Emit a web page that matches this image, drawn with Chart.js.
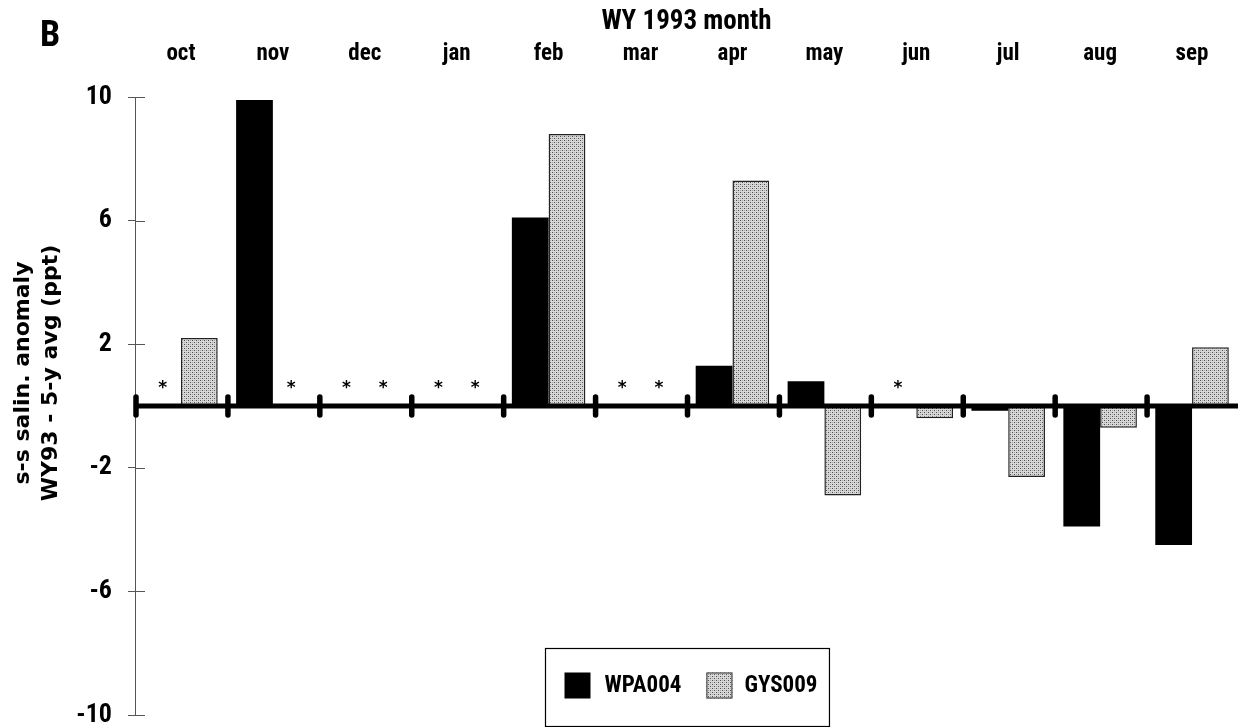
<!DOCTYPE html>
<html>
<head>
<meta charset="utf-8">
<script src="https://cdn.jsdelivr.net/npm/chart.js@4.4.1/dist/chart.umd.min.js"></script>
<style>
html,body{margin:0;padding:0;background:#fff;}
#wrap{position:relative;width:1238px;height:727px;overflow:hidden;}
#panel{position:absolute;left:40px;top:16px;font:bold 36px 'Roboto Condensed',Roboto,sans-serif;color:#000;line-height:1;}
</style>
</head>
<body>
<div id="wrap"><canvas id="c"></canvas><div id="panel">B</div></div>
<script>
// ---- data ----
const months = ['oct','nov','dec','jan','feb','mar','apr','may','jun','jul','aug','sep'];
const wpa004 = [null, 9.9, null, null, 6.1, null, 1.3, 0.8, null, -0.15, -3.9, -4.5];
const gys009 = [2.2, null, null, null, 8.8, null, 7.3, -2.9, -0.4, -2.3, -0.7, 1.9];
const seriesNames = ['WPA004', 'GYS009'];
const yTicks = [-10, -6, -2, 2, 6, 10];
const xTitle = 'WY 1993 month';
const yTitleLines = ['s-s salin. anomaly', 'WY93 - 5-y avg (ppt)'];
const missingMark = '*';

// ---- styles ----
const COND = "'Roboto Condensed',Roboto,'Liberation Sans',sans-serif";
const WIDE = "'DejaVu Sans','Liberation Sans',sans-serif";
Chart.defaults.font.family = COND;
Chart.defaults.color = '#000';

const canvas = document.getElementById('c');
const mainCtx = canvas.getContext('2d');
function makeStipple() {
  const c = document.createElement('canvas');
  c.width = 4; c.height = 4;
  const g = c.getContext('2d');
  g.fillStyle = '#d8d8d8'; g.fillRect(0, 0, 4, 4);
  g.fillStyle = '#505050';
  g.fillRect(0, 0, 1, 1); g.fillRect(2, 2, 1, 1);
  g.fillStyle = '#a8a8a8';
  g.fillRect(2, 0, 1, 1); g.fillRect(0, 2, 1, 1);
  return mainCtx.createPattern(c, 'repeat');
}
const stipple = makeStipple();

const decor = {
  id: 'decor',
  afterDatasetsDraw(chart) {
    const {ctx, chartArea: a, scales: {x, y}} = chart;
    const y0 = y.getPixelForValue(0);
    ctx.save();
    // y tick marks extending into plot
    ctx.strokeStyle = '#555'; ctx.lineWidth = 1;
    y.ticks.forEach(t => {
      const py = Math.round(y.getPixelForValue(t.value)) + 0.5;
      ctx.beginPath(); ctx.moveTo(a.left, py); ctx.lineTo(a.left + 10, py); ctx.stroke();
    });
    // zero line
    ctx.strokeStyle = '#000'; ctx.lineWidth = 5; ctx.lineCap = 'butt';
    ctx.beginPath(); ctx.moveTo(a.left, y0); ctx.lineTo(a.right, y0); ctx.stroke();
    // month boundary markers
    const cw = x.getPixelForValue(1) - x.getPixelForValue(0);
    ctx.lineCap = 'round'; ctx.lineWidth = 5.5;
    for (let i = 0; i < months.length; i++) {
      const bx = x.getPixelForValue(i) - cw / 2 + 1;
      ctx.beginPath(); ctx.moveTo(bx, y0 - 9); ctx.lineTo(bx, y0 + 9); ctx.stroke();
    }
    // missing-value asterisks
    ctx.fillStyle = '#000';
    ctx.font = "bold 17px " + WIDE;
    ctx.textAlign = 'center'; ctx.textBaseline = 'middle';
    chart.data.datasets.forEach((ds, di) => {
      const meta = chart.getDatasetMeta(di);
      ds.data.forEach((v, j) => {
        if (v === null) ctx.fillText(missingMark, meta.data[j].x, y0 - 17);
      });
    });
    ctx.restore();
  },
  afterDraw(chart) {
    const {ctx, chartArea: a} = chart;
    ctx.save();
    // y axis title (two lines, rotated)
    ctx.font = "bold 22px " + WIDE;
    ctx.fillStyle = '#000'; ctx.textAlign = 'center'; ctx.textBaseline = 'middle';
    const cy = (a.top + a.bottom) / 2 - 33;
    yTitleLines.forEach((line, i) => {
      ctx.save();
      ctx.translate(23 + i * 28, cy);
      ctx.rotate(-Math.PI / 2);
      ctx.fillText(line, 0, 0);
      ctx.restore();
    });
    // legend box
    ctx.font = "bold 23px " + COND;
    const ds = chart.data.datasets;
    const w1 = ctx.measureText(ds[0].label).width;
    const w2 = ctx.measureText(ds[1].label).width;
    const sq = 26;
    const totalW = 19 + sq + 14 + w1 + 25 + sq + 12 + w2 + 12;
    const left = Math.round((a.left + a.right) / 2 - totalW / 2) + 0.5;
    const top = Math.round(a.bottom - 67) + 0.5;
    const h = 78;
    ctx.fillStyle = '#fff';
    ctx.fillRect(left, top, totalW, h);
    ctx.strokeStyle = '#000'; ctx.lineWidth = 1.2;
    ctx.strokeRect(left, top, totalW, h);
    const my = top + 37;
    let cx = left + 19;
    ctx.fillStyle = ds[0].backgroundColor;
    ctx.fillRect(cx, my - sq / 2, sq, sq);
    cx += sq + 14;
    ctx.fillStyle = '#000'; ctx.textAlign = 'left'; ctx.textBaseline = 'middle';
    ctx.fillText(ds[0].label, cx, my + 1);
    cx += w1 + 25;
    ctx.fillStyle = ds[1].backgroundColor;
    ctx.fillRect(cx, my - sq / 2, sq, sq);
    ctx.strokeStyle = '#333'; ctx.lineWidth = 1;
    ctx.strokeRect(cx + 0.5, my - sq / 2 + 0.5, sq - 1, sq - 1);
    cx += sq + 12;
    ctx.fillStyle = '#000';
    ctx.fillText(ds[1].label, cx, my + 1);
    ctx.restore();
  }
};

new Chart(canvas, {
  type: 'bar',
  data: {
    labels: months,
    datasets: [
      {label: seriesNames[0], data: wpa004, backgroundColor: '#000', borderWidth: 0,
       categoryPercentage: 0.8, barPercentage: 1.0},
      {label: seriesNames[1], data: gys009, backgroundColor: stipple, borderColor: '#222', borderWidth: 1.5,
       categoryPercentage: 0.8, barPercentage: 1.0}
    ]
  },
  options: {
    responsive: true,
    maintainAspectRatio: false,
    animation: false,
    layout: {padding: {left: 0, right: 0, top: 0, bottom: 12}},
    plugins: {legend: {display: false}, tooltip: {enabled: false}},
    scales: {
      x: {
        position: 'top',
        offset: true,
        grid: {display: false, drawTicks: false},
        border: {display: false},
        ticks: {font: {size: 23, weight: 'bold'}, color: '#000', padding: 29, maxRotation: 0, autoSkip: false},
        title: {display: true, text: xTitle, font: {size: 27, weight: 'bold'}, color: '#000', padding: {top: 6, bottom: 0}},
        afterFit: s => { s.height = 97; s.paddingLeft = 0; s.paddingRight = 0; }
      },
      y: {
        min: -10, max: 10,
        afterBuildTicks: s => { s.ticks = yTicks.map(v => ({value: v})); },
        ticks: {font: {size: 26, weight: 'bold'}, color: '#000', padding: 16},
        grid: {drawOnChartArea: false, drawTicks: true, tickLength: 7, color: '#555', lineWidth: 1},
        border: {display: true, color: '#555', width: 1},
        afterFit: s => { s.width = 135; s.paddingTop = 0; s.paddingBottom = 0; }
      }
    }
  },
  plugins: [decor]
});
</script>
</body>
</html>
